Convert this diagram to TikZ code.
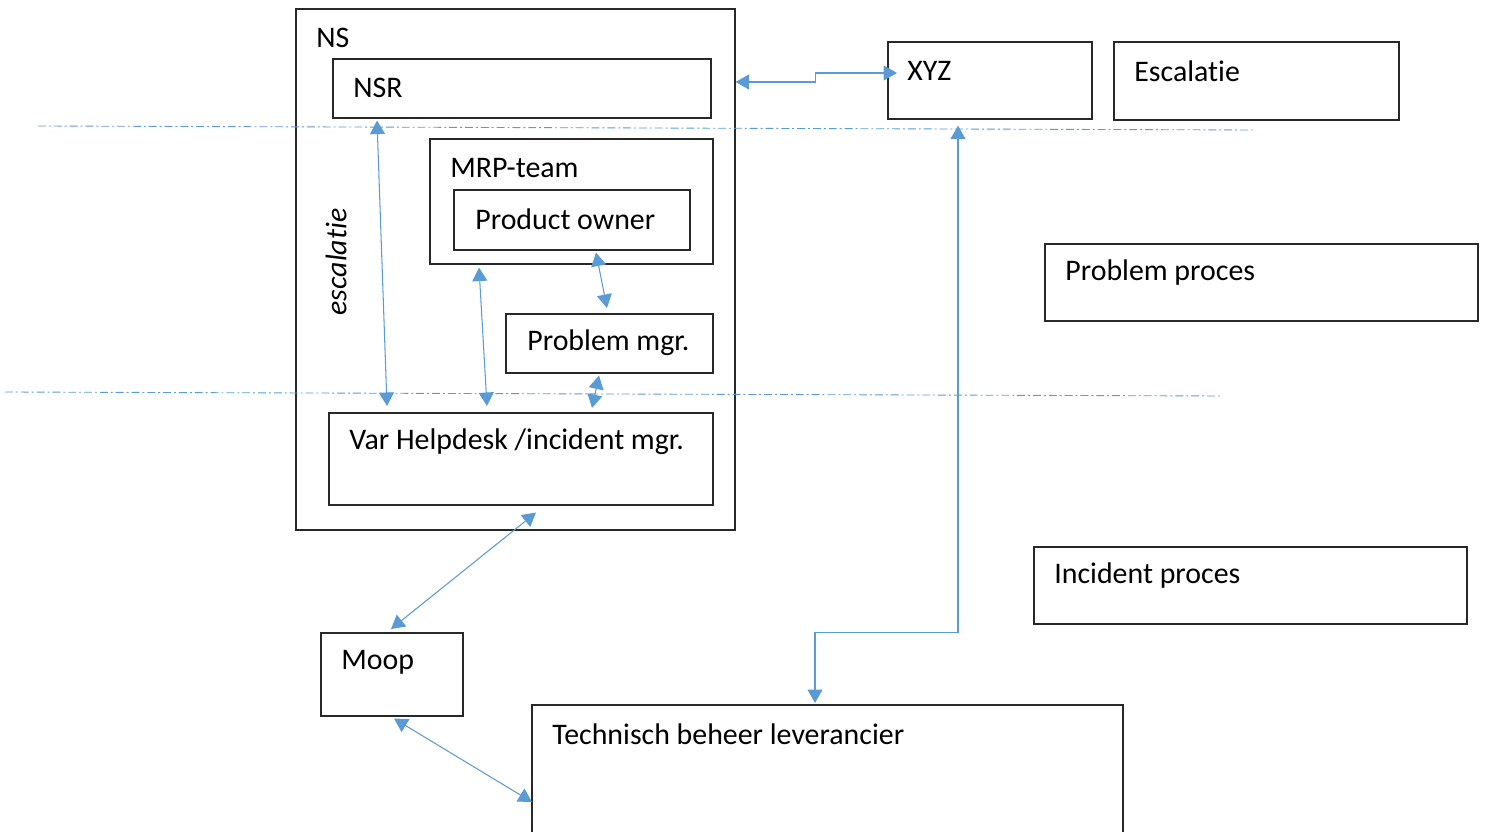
\documentclass[tikz,border=0pt]{standalone}
\usepackage{fontspec}
\setmainfont{Carlito}[Ligatures=NoCommon]
\usetikzlibrary{arrows.meta,calc}

\definecolor{boxgray}{RGB}{40,40,40}
\definecolor{linkblue}{RGB}{91,155,213}

\begin{document}
\begin{tikzpicture}[
    box/.style={draw=boxgray,line width=0.9pt,rectangle,anchor=north west,inner sep=0pt},
    txt/.style={anchor=west,inner sep=0pt,font=\fontsize{17}{20}\selectfont},
    link/.style={draw=linkblue,line width=0.6pt,
      {Triangle[width=0.3cm,length=0.27cm]}-{Triangle[width=0.3cm,length=0.27cm]}},
    guide/.style={draw=linkblue,line width=0.5pt,dash pattern=on 4.5pt off 1.7pt on 1.1pt off 1.7pt}
  ]

      \useasboundingbox (0,0) rectangle (29.74,-16.64);

      \begin{scope}[every node/.style={box}]
        \node[minimum width=8.78cm,minimum height=10.42cm] (ns)   at (5.90,-0.16)  {};
        \node[minimum width=7.56cm,minimum height=1.18cm]  (nsr)  at (6.64,-1.16)  {};
        \node[minimum width=5.66cm,minimum height=2.50cm]  (mrp)  at (8.58,-2.76)  {};
        \node[minimum width=4.72cm,minimum height=1.20cm]  (po)   at (9.06,-3.78)  {};
        \node[minimum width=4.14cm,minimum height=1.18cm]  (pm)   at (10.10,-6.26) {};
        \node[minimum width=7.68cm,minimum height=1.84cm]  (vh)   at (6.56,-8.24)  {};
        \node[minimum width=4.08cm,minimum height=1.54cm]  (xyz)  at (17.74,-0.82) {};
        \node[minimum width=5.70cm,minimum height=1.56cm]  (esc)  at (22.26,-0.82) {};
        \node[minimum width=8.66cm,minimum height=1.54cm]  (pp)   at (20.88,-4.86) {};
        \node[minimum width=8.66cm,minimum height=1.54cm]  (ip)   at (20.66,-10.92) {};
        \node[minimum width=2.84cm,minimum height=1.66cm]  (moop) at (6.40,-12.64) {};
        \node[minimum width=11.82cm,minimum height=3.00cm] (tbl)  at (10.62,-14.08) {};
      \end{scope}

      \begin{scope}[every node/.style={txt}]
        \node (ns-t)   at ([shift={(0.42,-0.60)}]ns.north west)   {NS};
        \node (nsr-t)  at ([shift={(0.42,-0.60)}]nsr.north west)  {NSR};
        \node (mrp-t)  at ([shift={(0.42,-0.60)}]mrp.north west)  {MRP-team};
        \node (po-t)   at ([shift={(0.44,-0.60)}]po.north west)   {Product owner};
        \node (pm-t)   at ([shift={(0.44,-0.60)}]pm.north west)   {Problem mgr.};
        \node (vh-t)   at ([shift={(0.42,-0.60)}]vh.north west)   {Var Helpdesk /incident mgr.};
        \node (xyz-t)  at ([shift={(0.40,-0.60)}]xyz.north west)  {XYZ};
        \node (esc-t)  at ([shift={(0.42,-0.60)}]esc.north west)  {Escalatie};
        \node (pp-t)   at ([shift={(0.42,-0.60)}]pp.north west)   {Problem proces};
        \node (ip-t)   at ([shift={(0.42,-0.60)}]ip.north west)   {Incident proces};
        \node (moop-t) at ([shift={(0.42,-0.60)}]moop.north west) {Moop};
        \node (tbl-t)  at ([shift={(0.42,-0.60)}]tbl.north west)  {Technisch beheer leverancier};
        \node[anchor=center,rotate=90,font=\fontsize{17}{20}\selectfont\itshape] (esc-v) at (6.72,-5.24) {escalatie};
      \end{scope}

      % dash-dot guide lines
      \coordinate (g1a) at (0.76,-2.52);
      \coordinate (g1b) at (25.10,-2.60);
      \coordinate (g2a) at (0.10,-7.84);
      \coordinate (g2b) at (24.44,-7.92);
      \path[guide] (g1a) -- (g1b);
      \path[guide] (g2a) -- (g2b);

      \begin{scope}[every path/.style={link}]
        \path ([yshift=-1.48cm]ns.north east) -- ++(1.6,0) |- ([shift={(0.20,-0.64)}]xyz.north west);
        \path ([shift={(0.90,-0.04)}]nsr.south west) -- ([shift={(1.18,0.12)}]vh.north west);
        \path ([shift={(1.00,-0.06)}]mrp.south west) -- ([shift={(3.18,0.12)}]vh.north west);
        \path ([shift={(2.86,-0.04)}]po.south west)  -- ([shift={(2.04,0.10)}]pm.north west);
        \path ([shift={(1.88,-0.04)}]pm.south west)  -- ([shift={(5.28,0.08)}]vh.north west);
        \path ([shift={(4.16,-0.14)}]vh.south west)  -- ([shift={(1.42,0.06)}]moop.north west);
        \path ([shift={(1.48,-0.04)}]moop.south west) -- ([shift={(0.02,-1.96)}]tbl.north west);
        \path ([shift={(1.42,-0.12)}]xyz.south west) -- ++(0,-10.14) -| ([shift={(5.68,0.02)}]tbl.north west);
      \end{scope}

    \end{tikzpicture}
\end{document}
